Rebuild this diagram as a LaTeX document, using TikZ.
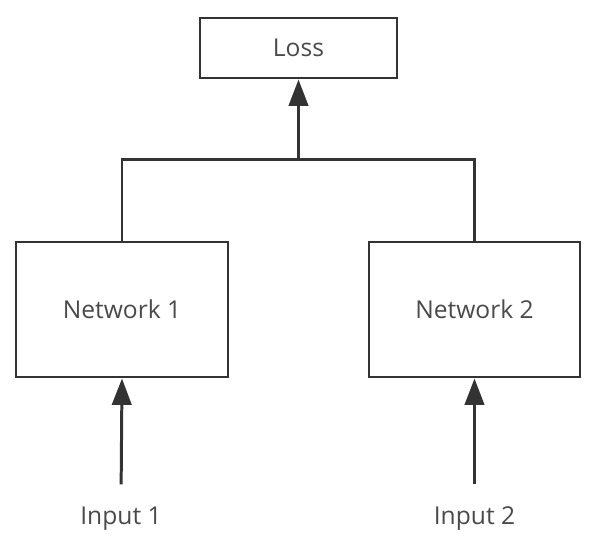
\documentclass[tikz,border=0pt]{standalone}
\usepackage{fontspec}
\setmainfont{Open Sans}
\usetikzlibrary{arrows.meta, positioning, calc}
\usepackage{xcolor}
\definecolor{lineGray}{HTML}{333333}
\definecolor{textGray}{HTML}{4A4A4A}
\tikzset{
    siamBlock/.style={
        draw=lineGray, fill=white, line width=1.7pt, align=center, font=\fontsize{14}{16}\selectfont, text=textGray, inner sep=0pt
    },
    siamLabel/.style={
        font=\fontsize{14}{16}\selectfont, text=textGray, inner sep=2pt
    },
    siamLine/.style={
        line width=1.7pt, draw=lineGray
    },
    siamArrow/.style={
        siamLine, -{Triangle[length=15pt, width=11pt]}
    }
}
\begin{document}
\begin{tikzpicture}
    \useasboundingbox (0, 0) rectangle (12, -11.12);

    % ── BLOCKS
    \node[siamBlock, minimum width=3.94cm, minimum height=1.2cm] (loss) at (5.97, -0.96) {Loss};
    \node[siamBlock, minimum width=4.24cm, minimum height=2.7cm] (net1) at (2.44, -6.19) {Network 1};
    \node[siamBlock, minimum width=4.22cm, minimum height=2.7cm] (net2) at (9.49, -6.19) {Network 2};

    % ── INPUTS
    \node[siamLabel] (in1) at (2.42, -10.38) {Input 1};
    \node[siamLabel] (in2) at (9.49, -10.38) {Input 2};

    % ── CONNECTORS & ARROWS
    \coordinate (join) at ($(loss.south) + (0, -1.6)$);
    \draw[siamLine] (net1.north) |- (join) -| (net2.north);
    \draw[siamArrow] (join) -- (loss.south);
    \draw[siamArrow, shorten <=0.38cm] (in1.north) -- (net1.south);
    \draw[siamArrow, shorten <=0.38cm] (in2.north) -- (net2.south);
\end{tikzpicture}
\end{document}
